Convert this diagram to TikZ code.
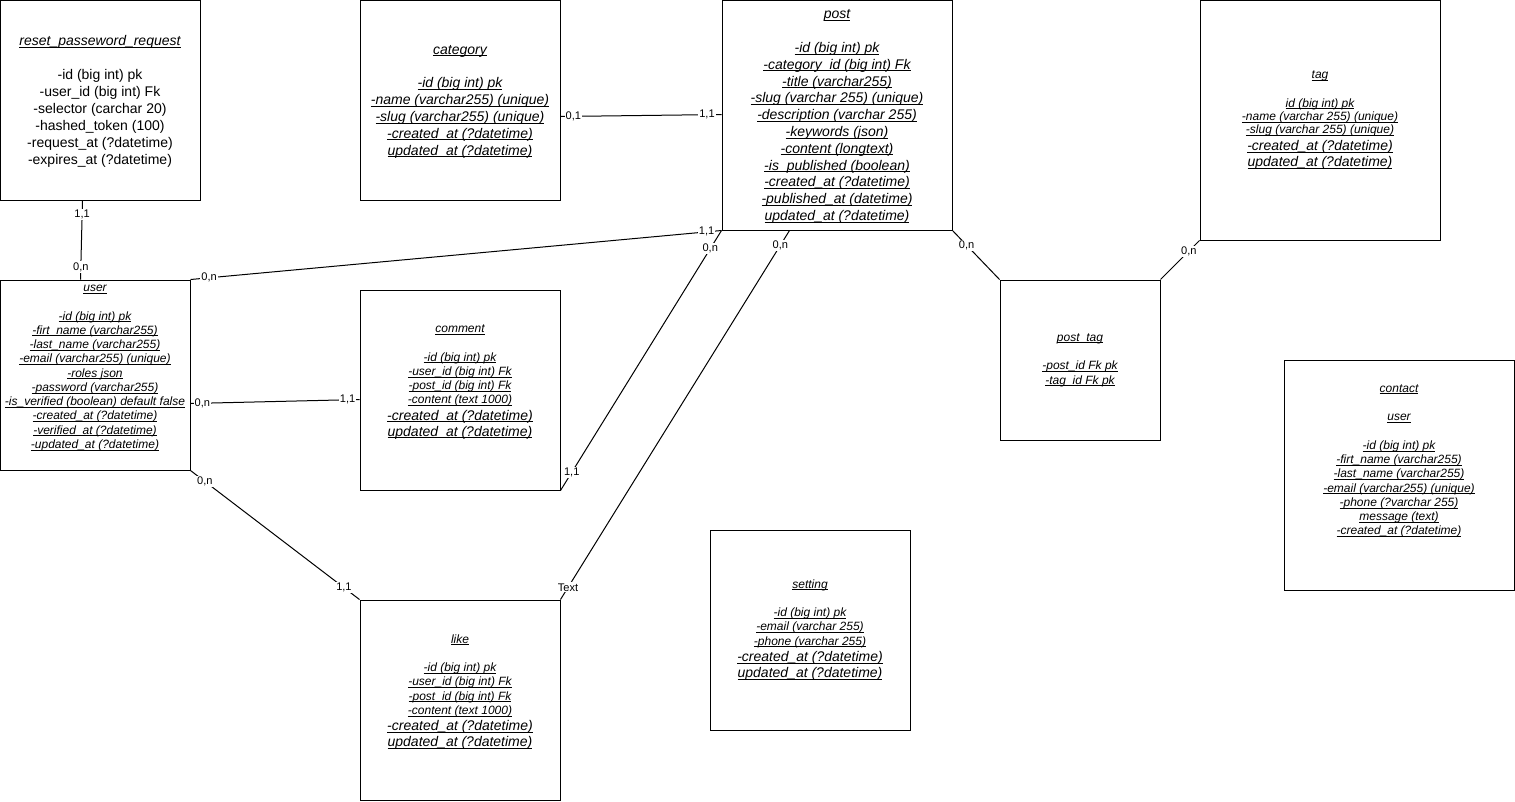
\documentclass[tikz,border=0pt]{standalone}
\usepackage{fontspec}
\setmainfont{Liberation Sans}
\usetikzlibrary{calc}
\newcommand{\uu}[1]{\setbox0\hbox{#1}\leavevmode\rlap{\rule[-1.3pt]{\wd0}{0.45pt}}\box0}
\newcommand{\bigfld}[1]{{\fontsize{10.5}{12}\selectfont #1}}
\tikzset{
  tbl/.style={draw=black, line width=0.75pt, inner sep=0pt, fill=white},
  txt/.style={inner sep=0pt, align=center},
  lrg/.style={font=\fontsize{10.5}{12.75}\selectfont},
  lrgi/.style={font=\fontsize{10.5}{12.6}\selectfont\itshape},
  sml/.style={font=\fontsize{9}{10.7}\selectfont\itshape},
  conn/.style={draw=black, line width=0.75pt},
  card/.style={font=\fontsize{8.3}{9}\selectfont, fill=white, inner sep=0.8pt}
}
\begin{document}
\begin{tikzpicture}[x=0.75pt,y=-0.75pt]
\useasboundingbox (0,0) rectangle (1515,801);
\fill[white] (0,0) rectangle (1515,801);

% boxes
\node[tbl, minimum width=150pt, minimum height=150pt] (reset) at (100,100) {};
\node[tbl, minimum width=150pt, minimum height=150pt] (category) at (460,100) {};
\node[tbl, minimum width=172.5pt, minimum height=172.5pt] (post) at (837,115) {};
\node[tbl, minimum width=180pt, minimum height=180pt] (tag) at (1320,120) {};
\node[tbl, minimum width=142.5pt, minimum height=142.5pt] (user) at (95,375) {};
\node[tbl, minimum width=150pt, minimum height=150pt] (comment) at (460,390) {};
\node[tbl, minimum width=120pt, minimum height=120pt] (posttag) at (1080,360) {};
\node[tbl, minimum width=172.5pt, minimum height=172.5pt] (contact) at (1399,475) {};
\node[tbl, minimum width=150pt, minimum height=150pt] (like) at (460,700) {};
\node[tbl, minimum width=150pt, minimum height=150pt] (setting) at (810,630) {};

% texts
\node[txt, lrg] (resetT) at (100,101.5) {\uu{\itshape reset\_passeword\_request}\\[12.75pt]
-id (big int) pk\\ -user\_id (big int) Fk\\ -selector (carchar 20)\\ -hashed\_token (100)\\ -request\_at (?datetime)\\ -expires\_at (?datetime)};

\node[txt, lrgi] (categoryT) at (460,101.5) {\uu{category}\\[12.75pt]
\uu{-id (big int) pk}\\ \uu{-name (varchar255) (unique)}\\ \uu{-slug (varchar255) (unique)}\\ \uu{-created\_at (?datetime)}\\ \uu{updated\_at (?datetime)}};

\node[txt, lrgi] (postT) at (837,116.5) {\uu{post}\\[12.75pt]
\uu{-id (big int) pk}\\ \uu{-category\_id (big int) Fk}\\ \uu{-title (varchar255)}\\ \uu{-slug (varchar 255) (unique)}\\ \uu{-description (varchar 255)}\\ \uu{-keywords (json)}\\ \uu{-content (longtext)}\\ \uu{-is\_published (boolean)}\\ \uu{-created\_at (?datetime)}\\ \uu{-published\_at (datetime)}\\ \uu{updated\_at (?datetime)}};

\node[txt, sml] (tagT) at (1320,120) {\uu{tag}\\[10.7pt]
\uu{id (big int) pk}\\[-0.6pt] \uu{-name (varchar 255) (unique)}\\[-0.6pt] \uu{-slug (varchar 255) (unique)}\\[1.6pt] \bigfld{\uu{-created\_at (?datetime)}}\\[1.3pt] \bigfld{\uu{updated\_at (?datetime)}}};

\node[txt, sml] (userT) at (95,368) {\uu{user}\\[10.7pt]
\uu{-id (big int) pk}\\ \uu{-firt\_name (varchar255)}\\ \uu{-last\_name (varchar255)}\\ \uu{-email (varchar255) (unique)}\\ \uu{-roles json}\\ \uu{-password (varchar255)}\\ \uu{-is\_verified (boolean) default false}\\ \uu{-created\_at (?datetime)}\\ \uu{-verified\_at (?datetime)}\\ \uu{-updated\_at (?datetime)}};

\node[txt, sml] (commentT) at (460,382) {\uu{comment}\\[10.7pt]
\uu{-id (big int) pk}\\ \uu{-user\_id (big int) Fk}\\ \uu{-post\_id (big int) Fk}\\ \uu{-content (text 1000)}\\[1.6pt] \bigfld{\uu{-created\_at (?datetime)}}\\[1.3pt] \bigfld{\uu{updated\_at (?datetime)}}};

\node[txt, sml] (posttagT) at (1080,360) {\uu{post\_tag}\\[10.7pt]
\uu{-post\_id Fk pk}\\ \uu{-tag\_id Fk pk}};

\node[txt, sml] (contactT) at (1399,461) {\uu{contact}\\[10.7pt] \uu{user}\\[10.7pt]
\uu{-id (big int) pk}\\ \uu{-firt\_name (varchar255)}\\ \uu{-last\_name (varchar255)}\\ \uu{-email (varchar255) (unique)}\\ \uu{-phone (?varchar 255)}\\ \uu{message (text)}\\ \uu{-created\_at (?datetime)}};

\node[txt, sml] (likeT) at (460,692) {\uu{like}\\[10.7pt]
\uu{-id (big int) pk}\\ \uu{-user\_id (big int) Fk}\\ \uu{-post\_id (big int) Fk}\\ \uu{-content (text 1000)}\\[1.6pt] \bigfld{\uu{-created\_at (?datetime)}}\\[1.3pt] \bigfld{\uu{updated\_at (?datetime)}}};

\node[txt, sml] (settingT) at (810,630) {\uu{setting}\\[10.7pt]
\uu{-id (big int) pk}\\ \uu{-email (varchar 255)}\\ \uu{-phone (varchar 255)}\\[1.6pt] \bigfld{\uu{-created\_at (?datetime)}}\\[1.3pt] \bigfld{\uu{updated\_at (?datetime)}}};

% connector end points
\coordinate (resetB) at ($(reset.south west)+(83,0)$);
\coordinate (userTop) at ($(user.north west)+(81,0)$);
\coordinate (catR) at ($(category.north east)+(0,117)$);
\coordinate (postL) at ($(post.north west)+(0,115)$);
\coordinate (userR) at ($(user.north east)+(0,124)$);
\coordinate (commentL) at ($(comment.north west)+(0,110)$);
\coordinate (postB) at ($(post.south west)+(68,0)$);

% connectors
\draw[conn] (resetB) -- node[card, pos=0.18] (c1a) {1,1} node[card, pos=0.84] (c1b) {0,n} (userTop);
\draw[conn] (catR) -- node[card, pos=0.08] (c2a) {0,1} node[card, pos=0.91] (c2b) {1,1} (postL);
\draw[conn] (user.north east) -- node[card, pos=0.035] (c3a) {0,n} node[card, pos=0.972] (c3b) {1,1} (post.south west);
\draw[conn] (userR) -- node[card, pos=0.07] (c4a) {0,n} node[card, pos=0.93] (c4b) {1,1} (commentL);
\draw[conn] (comment.south east) -- node[card, pos=0.07] (c5a) {1,1} node[card, pos=0.93] (c5b) {0,n} (post.south west);
\draw[conn] (like.north east) -- node[card, pos=0.033] (c6a) {Text} node[card, pos=0.96] (c6b) {0,n} (postB);
\draw[conn] (user.south east) -- node[card, pos=0.085] (c7a) {0,n} node[card, pos=0.908] (c7b) {1,1} (like.north west);
\draw[conn] (post.south east) -- node[card, pos=0.3] (c8a) {0,n} (posttag.north west);
\draw[conn] (posttag.north east) -- node[card, pos=0.725] (c9a) {0,n} (tag.south west);
\end{tikzpicture}
\end{document}
